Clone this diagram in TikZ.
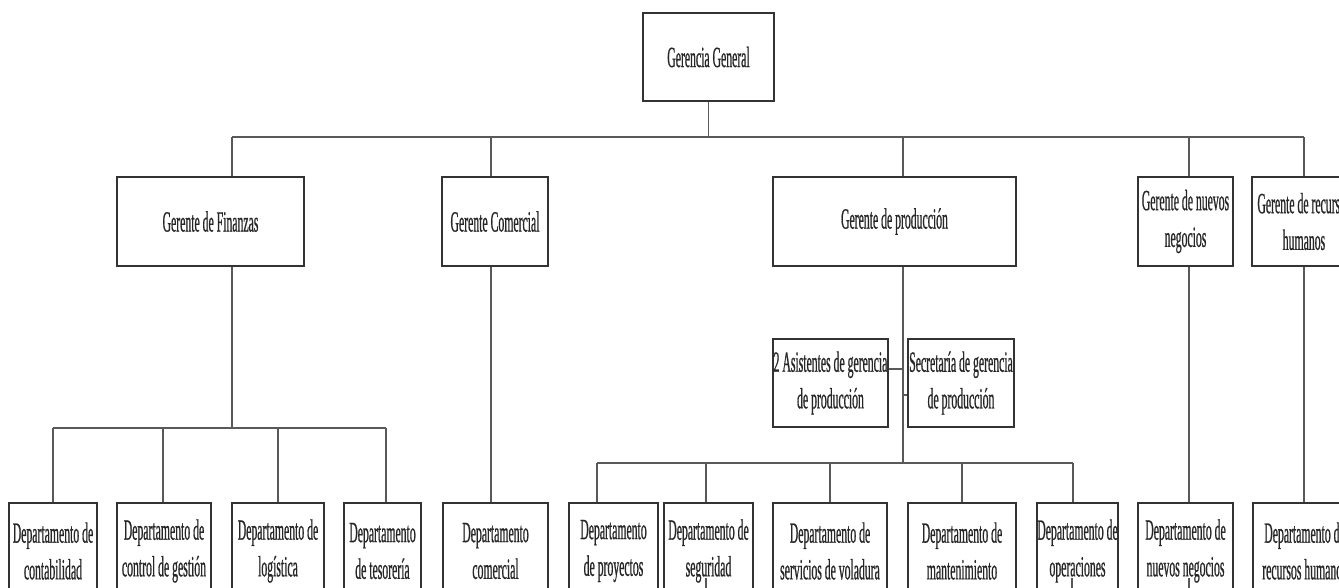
\documentclass[tikz,border=0pt]{standalone}
\usepackage{fontspec}
\setmainfont{Liberation Serif}[FakeStretch=0.40,FakeBold=0.6]
\begin{document}
\begin{tikzpicture}[x=0.75pt,y=-0.75pt,
  box/.style={draw=black!80, line width=1.1pt, fill=white, inner sep=0pt, align=center,
    font=\fontsize{22}{27.5}\selectfont, text=black!85},
  sz/.style 2 args={minimum width=#1*0.75pt, minimum height=#2*0.75pt},
  conn/.style={draw=black!65, line width=1pt}]
\useasboundingbox (0,0) rectangle (1339,587);
\clip (0,0) rectangle (1339,587);
\fill[white] (0,0) rectangle (1339,587);
\coordinate (jf) at (232,137);
\coordinate (jc) at (491,137);
\coordinate (jg) at (708.5,137);
\coordinate (jp) at (903,137);
\coordinate (jn) at (1189,137);
\coordinate (jr) at (1304,137);
\coordinate (fbus) at (232,428);
\coordinate (pbus) at (903,463);
\coordinate (ya) at (0,369);
\coordinate (yb) at (0,395);
\coordinate (x163) at (163,0);
\coordinate (x386) at (386,0);
\coordinate (x597) at (597,0);
\coordinate (x706) at (706,0);
\coordinate (x1073) at (1073,0);
\coordinate (s7) at (706,578);
\coordinate (s10) at (1072,578);
\coordinate (s11) at (1189,578);

\node[box, sz={131}{88}] (gg) at (708.5,57) {Gerencia General};
\node[box, sz={187}{89}] (fin) at (210.5,221.5) {Gerente de Finanzas};
\node[box, sz={106}{89}] (com) at (495,221.5) {Gerente Comercial};
\node[box, sz={243}{89}] (prod) at (894.5,221.5) {Gerente de producción};
\node[box, sz={95}{89}] (nue) at (1185.5,221.5) {Gerente de nuevos\\negocios};
\node[box, sz={104}{89}] (rrhh) at (1304,221.5) {Gerente de recursos\\humanos};
\node[box, sz={115}{88}] (asis) at (830.5,383) {2 Asistentes de gerencia\\de producción};
\node[box, sz={106}{88}] (sec) at (961,383) {Secretaría de gerencia\\de producción};

\node[box, sz={88}{96}] (b1) at (53,551) {Departamento de\\contabilidad};
\node[box, sz={94}{96}] (b2) at (164,551) {Departamento de\\control de gestión};
\node[box, sz={92}{96}] (b3) at (278,551) {Departamento de\\logística};
\node[box, sz={77}{96}] (b4) at (382.5,551) {Departamento\\de tesorería};
\node[box, sz={105}{96}] (b5) at (495.5,551) {Departamento\\comercial};
\node[box, sz={89}{96}] (b6) at (613.5,551) {Departamento\\de proyectos};
\node[box, sz={89}{96}] (b7) at (708.5,551) {Departamento de\\seguridad};
\node[box, sz={114}{96}] (b8) at (830,551) {Departamento de\\servicios de voladura};
\node[box, sz={108}{96}] (b9) at (962,551) {Departamento de\\mantenimiento};
\node[box, sz={81}{96}] (b10) at (1077.5,551) {Departamento de\\operaciones};
\node[box, sz={95}{96}] (b11) at (1185.5,551) {Departamento de\\nuevos negocios};
\node[box, sz={103}{96}] (b12) at (1304.5,551) {Departamento de\\recursos humanos};

\draw[conn] (gg.south) -- (jg);
\draw[conn] (jf) -- (jr);
\draw[conn] (jf) -- (jf |- fin.north);
\draw[conn] (jc) -- (jc |- com.north);
\draw[conn] (jp) -- (jp |- prod.north);
\draw[conn] (jn) -- (jn |- nue.north);
\draw[conn] (jr) -- (jr |- rrhh.north);

\draw[conn] (jf |- fin.south) -- (fbus);
\draw[conn] (b1.north |- fbus) -- (x386 |- fbus);
\draw[conn] (b1.north |- fbus) -- (b1.north);
\draw[conn] (x163 |- fbus) -- (b2.north -| x163);
\draw[conn] (b3.north |- fbus) -- (b3.north);
\draw[conn] (x386 |- fbus) -- (b4.north -| x386);

\draw[conn] (jc |- com.south) -- (jc |- b5.north);

\draw[conn] (jp |- prod.south) -- (pbus);
\draw[conn] (x597 |- pbus) -- (x1073 |- pbus);
\draw[conn] (x597 |- pbus) -- (b6.north -| x597);
\draw[conn] (x706 |- pbus) -- (b7.north -| x706);
\draw[conn] (b8.north |- pbus) -- (b8.north);
\draw[conn] (b9.north |- pbus) -- (b9.north);
\draw[conn] (x1073 |- pbus) -- (b10.north -| x1073);
\draw[conn] (asis.east |- ya) -- (jp |- ya);
\draw[conn] (jp |- yb) -- (sec.west |- yb);

\draw[conn] (jn |- nue.south) -- (jn |- b11.north);
\draw[conn] (jr |- rrhh.south) -- (jr |- b12.north);

\draw[conn] (s7) -- (b7.south -| s7);
\draw[conn] (s10) -- (b10.south -| s10);
\draw[conn] (s11) -- (b11.south -| s11);
\end{tikzpicture}
\end{document}
